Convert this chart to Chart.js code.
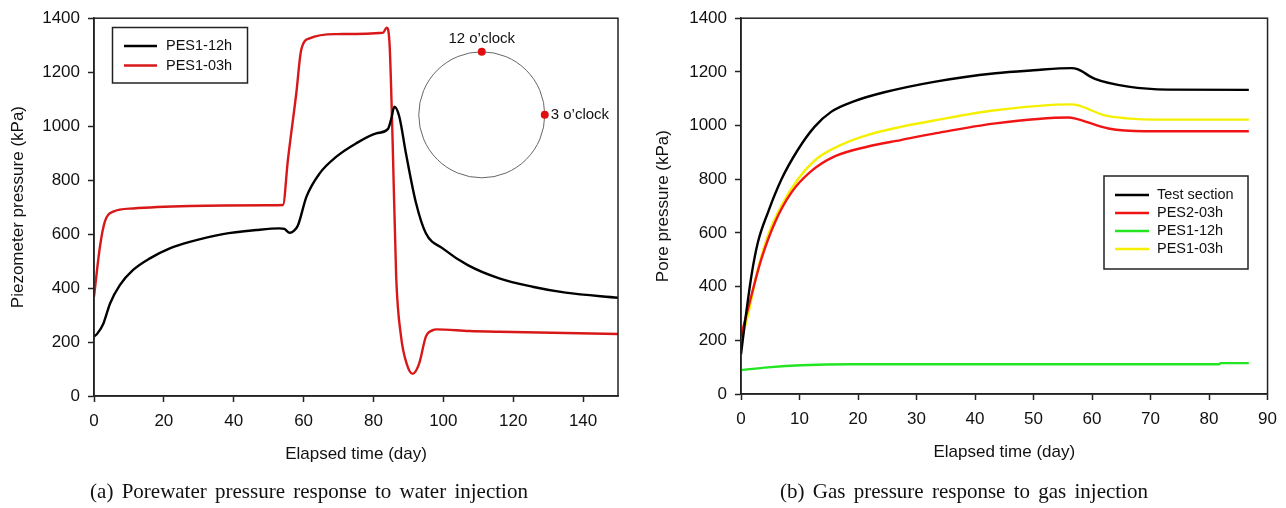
<!DOCTYPE html>
<html>
<head>
<meta charset="utf-8">
<script src="https://cdn.jsdelivr.net/npm/chart.js@4.4.1/dist/chart.umd.min.js"></script>
<style>
  body { margin: 0; background: #fff; width: 1286px; height: 508px; overflow: hidden; position: relative; }
  .panel { position: absolute; top: 0; }
  .caption {
    position: absolute; top: 479px; line-height: 24px;
    font-family: "Liberation Serif", "Times New Roman", serif; font-size: 21px; word-spacing: 3px;
    color: #111; white-space: nowrap; transform: translateX(-50%);
  }
</style>
</head>
<body>
<div class="panel" style="left:0"><canvas id="waterChart" width="640" height="480"></canvas></div>
<div class="panel" style="left:640px"><canvas id="gasChart" width="646" height="480"></canvas></div>
<div class="caption" style="left:309px">(a) Porewater pressure response to water injection</div>
<div class="caption" style="left:964px">(b) Gas pressure response to gas injection</div>

<script>
// (a) water injection - days / kPa
const waterDays12 = [0, 1, 2.7, 4.6, 7.4, 11.2, 16, 21.7, 27.4, 36.9, 46.5, 53.1, 54.5, 56, 57.2, 58.4, 60.8, 64.6, 69.3, 75, 80.8, 84.1, 85, 86, 87.4, 89.3, 92.2, 95, 99.8, 107, 116, 125.5, 135, 150];
const waterP12    = [220, 232, 269, 343, 411, 467, 510, 547, 571, 600, 615, 621, 619, 605, 612, 633, 738, 825, 886, 936, 973, 989, 1022, 1072, 1035, 899, 714, 603, 547, 485, 436, 405, 383, 364];
const waterDays03 = [0, 1.7, 3.1, 5.5, 11.2, 27.4, 50, 54.1, 55.5, 57.9, 59.3, 61.7, 69.3, 82.7, 83.8, 84.6, 85.5, 86.5, 87.9, 89.5, 91.2, 93.1, 95, 97, 98, 107.4, 116, 150];
const waterP03    = [368, 553, 646, 683, 695, 704, 707, 708, 874, 1121, 1281, 1325, 1341, 1346, 1365, 1306, 936, 442, 220, 120, 82, 121, 220, 244, 247, 241, 238, 230];

// (b) gas injection
const gasDaysTest = [0, 0.7, 1.8, 2.9, 4.6, 6.9, 9.7, 12.6, 15.4, 19.4, 24.5, 33, 43.5, 50, 56.5, 57.5, 60.5, 66.2, 73, 86.8];
const gasPTest    = [148, 271, 443, 566, 676, 799, 909, 996, 1051, 1091, 1124, 1163, 1195, 1206, 1214, 1210, 1174, 1145, 1134, 1133];
const gasDays2_03 = [0, 1.8, 3.5, 5.8, 8.6, 12, 16, 21.7, 27.3, 33, 43.5, 56, 57, 62.8, 69, 86.8];
const gasP2_03    = [215, 369, 504, 639, 750, 830, 885, 922, 946, 970, 1008, 1030, 1027, 989, 979, 979];
const gasDays1_12 = [0, 4.6, 10.3, 18.8, 33, 60, 81.7, 82, 86.8];
const gasP1_12    = [89, 99, 107, 111, 111, 111, 111, 115, 115];
const gasDays1_03 = [0, 1.2, 2.9, 4.6, 6.9, 9.7, 13.1, 17.1, 21.7, 27.3, 33, 43.5, 56.5, 57.5, 62.2, 66, 70.7, 86.8];
const gasP1_03    = [197, 295, 467, 590, 701, 799, 879, 928, 965, 995, 1019, 1057, 1079, 1076, 1038, 1027, 1022, 1022];

const yTicks = [0, 200, 400, 600, 800, 1000, 1200, 1400];

const sansFont = '"Liberation Sans", Arial, sans-serif';

function pts(xs, ys) {
  return xs.map((d, i) => ({ x: d, y: ys[i] }));
}

// full box round the plot area
const framePlugin = {
  id: 'frame',
  afterDraw(chart) {
    const { ctx, chartArea: a } = chart;
    ctx.save();
    ctx.strokeStyle = '#222';
    ctx.lineWidth = 1.5;
    ctx.strokeRect(a.left, a.top, a.right - a.left, a.bottom - a.top);
    ctx.restore();
  }
};

// legend drawn inside the plot, boxed like the original
const boxLegendPlugin = {
  id: 'boxLegend',
  afterDraw(chart, args, opts) {
    const { ctx } = chart;
    ctx.save();
    ctx.fillStyle = '#fff';
    ctx.fillRect(opts.x, opts.y, opts.w, opts.h);
    ctx.strokeStyle = '#222';
    ctx.lineWidth = 1.5;
    ctx.strokeRect(opts.x, opts.y, opts.w, opts.h);
    ctx.font = opts.fontSize + 'px ' + sansFont;
    ctx.textBaseline = 'middle';
    chart.data.datasets.forEach((ds, i) => {
      const yy = opts.firstRow + i * opts.rowGap;
      ctx.strokeStyle = ds.borderColor;
      ctx.lineWidth = 2.5;
      ctx.beginPath();
      ctx.moveTo(opts.lineX, yy);
      ctx.lineTo(opts.lineX + opts.lineLen, yy);
      ctx.stroke();
      ctx.fillStyle = '#111';
      ctx.fillText(ds.label, opts.textX, yy);
    });
    ctx.restore();
  }
};

// piezometer position sketch in panel (a)
const clockPlugin = {
  id: 'clock',
  afterDatasetsDraw(chart, args, opts) {
    const { ctx, scales: { x, y } } = chart;
    const cx = x.getPixelForValue(opts.day);
    const cy = y.getPixelForValue(opts.kPa);
    const r = opts.radius;
    ctx.save();
    ctx.strokeStyle = '#666';
    ctx.lineWidth = 1;
    ctx.beginPath();
    ctx.arc(cx, cy, r, 0, Math.PI * 2);
    ctx.stroke();
    ctx.fillStyle = '#e01010';
    [[cx, cy - r], [cx + r, cy]].forEach(([px, py]) => {
      ctx.beginPath();
      ctx.arc(px, py, 4, 0, Math.PI * 2);
      ctx.fill();
    });
    ctx.fillStyle = '#111';
    ctx.font = '15px ' + sansFont;
    ctx.textBaseline = 'middle';
    ctx.textAlign = 'center';
    ctx.fillText('12 o\u2019clock', cx, cy - r - 13);
    ctx.textAlign = 'left';
    ctx.fillText('3 o\u2019clock', cx + r + 6, cy);
    ctx.restore();
  }
};

function pressureChart(id, datasets, cfg) {
  return new Chart(document.getElementById(id), {
    type: 'line',
    data: { datasets },
    options: {
      responsive: false,
      animation: false,
      layout: { padding: cfg.padding },
      elements: {
        point: { radius: 0 },
        line: { borderWidth: 2.4, cubicInterpolationMode: 'monotone' }
      },
      plugins: {
        legend: { display: false },
        tooltip: { enabled: false },
        boxLegend: cfg.legend,
        clock: cfg.clock || {}
      },
      scales: {
        x: {
          type: 'linear',
          min: 0,
          max: cfg.xMax,
          afterFit: s => { s.height = cfg.xHeight; },
          border: { color: '#222', width: 1.5 },
          grid: { drawOnChartArea: false, tickLength: 6, color: '#222', tickWidth: 1.5 },
          ticks: { stepSize: cfg.xStep, includeBounds: false, padding: 9, color: '#111', font: { family: sansFont, size: 17 }, callback: v => String(v) },
          title: { display: true, text: 'Elapsed time (day)', color: '#111', font: { family: sansFont, size: 17 }, padding: { bottom: cfg.xTitlePad } }
        },
        y: {
          min: 0,
          max: 1400,
          afterFit: s => { s.width = cfg.yWidth; },
          afterBuildTicks: s => { s.ticks = yTicks.map(v => ({ value: v })); },
          border: { color: '#222', width: 1.5 },
          grid: { drawOnChartArea: false, tickLength: 6, color: '#222', tickWidth: 1.5 },
          ticks: { padding: 8, color: '#111', font: { family: sansFont, size: 17 }, callback: v => String(v) },
          title: { display: true, text: cfg.yTitle, color: '#111', font: { family: sansFont, size: 17 }, padding: { top: cfg.yTitlePad } }
        }
      }
    },
    plugins: cfg.clock ? [framePlugin, clockPlugin, boxLegendPlugin] : [framePlugin, boxLegendPlugin]
  });
}

pressureChart('waterChart', [
  { label: 'PES1-12h', data: pts(waterDays12, waterP12), borderColor: '#000000' },
  { label: 'PES1-03h', data: pts(waterDays03, waterP03), borderColor: '#d81818' }
], {
  padding: { left: 0, top: 16, right: 22, bottom: 0 },
  xMax: 150, xStep: 20, xHeight: 84, yWidth: 94,
  xTitlePad: 15, yTitlePad: 8,
  yTitle: 'Piezometer pressure (kPa)',
  legend: { x: 112.5, y: 27.5, w: 135, h: 55.5, lineX: 124, lineLen: 33, textX: 166, firstRow: 46, rowGap: 19.5, fontSize: 14.5 },
  clock: { day: 111, kPa: 1042, radius: 63 }
});

pressureChart('gasChart', [
  { label: 'Test section', data: pts(gasDaysTest, gasPTest), borderColor: '#000000' },
  { label: 'PES2-03h', data: pts(gasDays2_03, gasP2_03), borderColor: '#f01414' },
  { label: 'PES1-12h', data: pts(gasDays1_12, gasP1_12), borderColor: '#22e622' },
  { label: 'PES1-03h', data: pts(gasDays1_03, gasP1_03), borderColor: '#f4f000' }
], {
  padding: { left: 0, top: 14, right: 16, bottom: 0 },
  xMax: 90, xStep: 10, xHeight: 86, yWidth: 101,
  xTitlePad: 17, yTitlePad: 13,
  yTitle: 'Pore pressure (kPa)',
  legend: { x: 464, y: 176, w: 144, h: 93, lineX: 475, lineLen: 34, textX: 517, firstRow: 195, rowGap: 18, fontSize: 14.5 }
});
</script>
</body>
</html>
